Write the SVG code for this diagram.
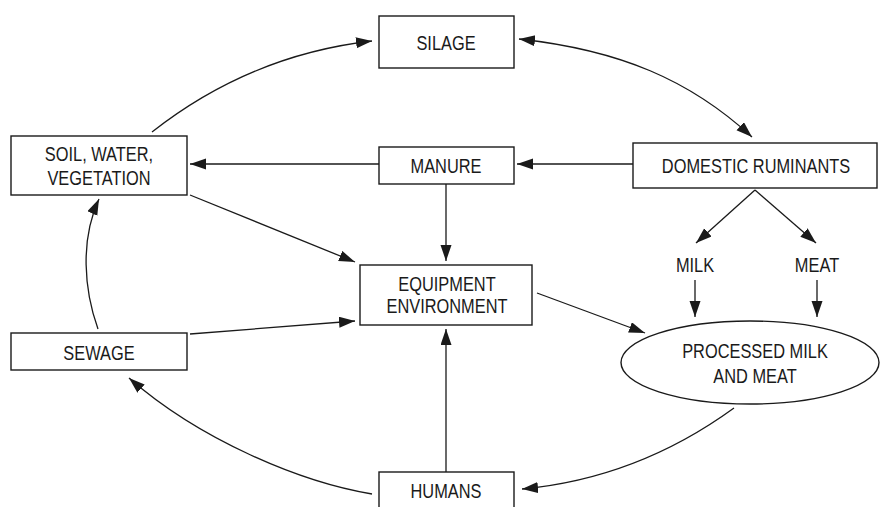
<svg xmlns="http://www.w3.org/2000/svg" width="880" height="507" viewBox="0 0 880 507">
<defs>
<marker id="ah" markerUnits="userSpaceOnUse" markerWidth="16" markerHeight="12" refX="16" refY="5.5" orient="auto-start-reverse">
<path d="M0,0 L16,5.5 L0,11 z" fill="#1a1a1a"/>
</marker>
<style>
.box{fill:#fff;stroke:#1a1a1a;stroke-width:1.4}
.lbl{font-family:"Liberation Sans",Arial,sans-serif;font-size:21px;fill:#1a1a1a;text-anchor:middle}
.c{fill:none;stroke:#1a1a1a;stroke-width:1.3;marker-end:url(#ah)}
</style>
</defs>
<rect width="880" height="507" fill="#fff"/>
<g id="connectors">
<path class="c" d="M152,132 Q250,55 372,41"/>
<path class="c" d="M519,39 C620,50 690,80 752,137" marker-start="url(#ah)"/>
<path class="c" d="M633,164 L517,164"/>
<path class="c" d="M379,164 L190,164"/>
<path class="c" d="M190,195 L355,262"/>
<path class="c" d="M446,184 L446,261"/>
<path class="c" d="M190,334 L355,321"/>
<path class="c" d="M446,472 L446,329"/>
<path class="c" d="M537,293 L645,333"/>
<path class="c" d="M755,190 L696,243"/>
<path class="c" d="M755,190 L816,243"/>
<path class="c" d="M695,280 L695,317"/>
<path class="c" d="M817,280 L817,317"/>
<path class="c" d="M98,329 C84,290 80,240 99,199"/>
<path class="c" d="M372,494 C300,482 200,440 129,378"/>
<path class="c" d="M734,408 C690,440 620,480 522,489"/>
</g>
<g id="silage"><rect class="box" x="379" y="16" width="135" height="52"/><text class="lbl" transform="translate(446,50) scale(0.78,1)">SILAGE</text></g>
<g id="soil"><rect class="box" x="11" y="136" width="176" height="59"/><text class="lbl" transform="translate(99,161) scale(0.78,1)">SOIL, WATER,</text><text class="lbl" transform="translate(99,185) scale(0.78,1)">VEGETATION</text></g>
<g id="manure"><rect class="box" x="379" y="147" width="135" height="37"/><text class="lbl" transform="translate(446,173) scale(0.78,1)">MANURE</text></g>
<g id="ruminants"><rect class="box" x="633" y="143" width="244" height="45"/><text class="lbl" transform="translate(756,173) scale(0.78,1)">DOMESTIC RUMINANTS</text></g>
<g id="milk"><text class="lbl" transform="translate(695,272) scale(0.78,1)">MILK</text></g>
<g id="meat"><text class="lbl" transform="translate(817,272) scale(0.78,1)">MEAT</text></g>
<g id="equipment"><rect class="box" x="360" y="265" width="172" height="60"/><text class="lbl" transform="translate(447,291) scale(0.78,1)">EQUIPMENT</text><text class="lbl" transform="translate(447,313) scale(0.78,1)">ENVIRONMENT</text></g>
<g id="processed"><ellipse class="box" cx="750" cy="362.5" rx="129" ry="41.5"/><text class="lbl" transform="translate(755,358) scale(0.78,1)">PROCESSED MILK</text><text class="lbl" transform="translate(755,383) scale(0.78,1)">AND MEAT</text></g>
<g id="sewage"><rect class="box" x="11" y="333" width="176" height="37"/><text class="lbl" transform="translate(99,360) scale(0.78,1)">SEWAGE</text></g>
<g id="humans"><rect class="box" x="379" y="472" width="135" height="45"/><text class="lbl" transform="translate(446,498) scale(0.78,1)">HUMANS</text></g>
</svg>
